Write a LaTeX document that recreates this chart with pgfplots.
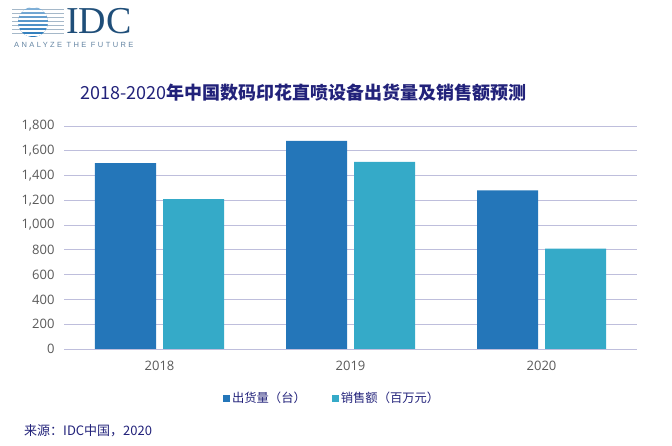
\documentclass[border=0pt]{standalone}
\usepackage{pgfplots}
\pgfplotsset{compat=1.18}
\usepackage{fontspec}
\setmainfont{Open Sans}
\newfontfamily\cjk{Noto Sans CJK SC}
\newfontfamily\logoserif{Liberation Serif}
\newfontfamily\logosans[LetterSpace=32]{Liberation Sans}
\definecolor{barblue}{HTML}{2476B9}
\definecolor{barteal}{HTML}{35AAC8}
\definecolor{navy}{HTML}{22227A}
\definecolor{gridc}{HTML}{BEBEDC}
\definecolor{ticktext}{HTML}{595959}
\definecolor{logoblue}{HTML}{1F4E79}
\begin{document}
\begin{tikzpicture}[x=1pt,y=1pt]
\path[use as bounding box] (0,0) rectangle (672,446);
% logo
\foreach \k in {-11,-7,-3,1,5,9,13} {\draw[logoblue!40, line width=0.5pt] (12,{424+\k}) -- (64,{424+\k});}
\begin{scope}
\clip (33,424) circle (15);
\shade[top color=barblue!55, bottom color=barblue] (17,408) rectangle (49,440);
\foreach \k in {-13,-9,-5,-1,3,7,11,15} {\fill[white] (17,{424+\k-0.7}) rectangle (49,{424+\k+0.7});}
\end{scope}
\node[anchor=west, inner sep=0, text=logoblue, font=\logoserif\fontsize{38}{38}\selectfont] at (66,424.5) {IDC};
\node[anchor=west, inner sep=0, text=logoblue!70, font=\logosans\fontsize{7.5}{8}\selectfont] at (14,401) {ANALYZE THE FUTURE};
% title
\node[anchor=center, inner sep=0, text=navy] at (303.5,353) {\cjk\fontsize{18}{18}\selectfont 2018-2020\textbf{年中国数码印花直喷设备出货量及销售额预测}};
% source
\node[anchor=west, inner sep=0, text=navy] at (24,15) {\cjk\fontsize{13}{13}\selectfont 来源：IDC中国，2020};
\begin{axis}[
  at={(64pt,97pt)}, anchor=south west,
  scale only axis, width=573pt, height=223pt,
  xmin=-0.5, xmax=2.5, ymin=0, ymax=1800,
  ybar, bar width=61pt,
  xtick={0,1,2}, xticklabels={2018,2019,2020},
  ytick={0,200,...,1800},
  ymajorgrids, grid style={gridc, line width=0.9pt},
  axis line style={draw=none},
  major tick length=0pt, tick style={draw=none},
  tick label style={font=\fontsize{13}{13}\selectfont, text=ticktext},
  yticklabel style={xshift=-6pt},
  xticklabel style={yshift=-9pt},
  /pgf/number format/1000 sep={,},
  /pgf/number format/assume math mode=true,
  legend columns=2,
  legend style={at={(0.468,-0.22)}, anchor=center, draw=none, fill=none,
    font=\cjk\fontsize{12.3}{12.3}\selectfont, text=navy,
    /tikz/every even column/.append style={column sep=24pt}},
  legend image code/.code={\fill[#1] (0pt,-3.5pt) rectangle (7pt,3.5pt);},
]
\addplot[fill=barblue, draw=none, bar shift=-34pt] coordinates {(0,1500) (1,1680) (2,1280)};
\addlegendentry{出货量（台）}
\addplot[fill=barteal, draw=none, bar shift=34pt] coordinates {(0,1210) (1,1510) (2,810)};
\addlegendentry{销售额（百万元）}
\end{axis}
\end{tikzpicture}
\end{document}
